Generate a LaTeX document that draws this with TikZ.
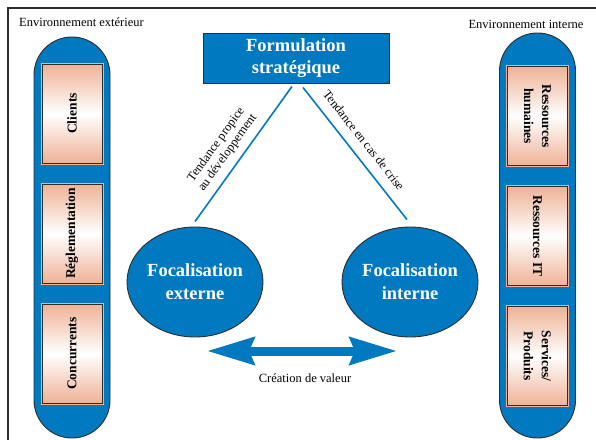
\documentclass[tikz,border=0pt]{standalone}
\usepackage{fontspec}
\setmainfont{Liberation Serif}
\usetikzlibrary{arrows.meta,shapes.geometric}
\definecolor{bleu}{RGB}{0,121,193}
\definecolor{peche}{RGB}{238,178,150}
\definecolor{cadre}{RGB}{45,45,45}

\begin{document}
\begin{tikzpicture}[x=1pt,y=-1pt]
	\tikzstyle{capsule}=[draw=cadre,fill=bleu,line width=0.9pt,rounded corners=37.9pt,minimum width=76pt]
	\tikzstyle{case}=[draw=cadre,line width=0.9pt,preaction={draw=peche,line width=3pt},top color=peche,bottom color=peche,middle color=white,minimum width=99pt,minimum height=60pt,inner sep=0pt,align=center,font=\bfseries\fontsize{13.5}{18}\selectfont]
	\tikzstyle{titre}=[draw=cadre,fill=bleu,line width=0.9pt,minimum width=186pt,minimum height=50pt,inner sep=0pt,text=white,align=center,font=\bfseries\fontsize{18.5}{22}\selectfont]
	\tikzstyle{ovale}=[ellipse,draw=cadre,fill=bleu,line width=0.9pt,minimum width=136pt,minimum height=110pt,inner sep=0pt,text=white,align=center,font=\bfseries\fontsize{18.5}{23}\selectfont]
	\tikzstyle{lien}=[draw=bleu,line width=1.6pt]
	\tikzstyle{etiquette}=[sloped,align=center,inner sep=0pt,font=\fontsize{12.5}{14}\selectfont]
	\tikzstyle{valeur}=[{Stealth[length=47pt,width=27pt,inset=5pt]}-{Stealth[length=47pt,width=27pt,inset=5pt]},draw=bleu,line width=9pt]
	\tikzstyle{texte}=[inner sep=0pt,font=\fontsize{12.5}{14}\selectfont]
	
	\def\ColonneG{72}
	\def\ColonneD{537.5}
	\def\PasCases{120}
	
	\useasboundingbox (0,0) rectangle (596,439);
	\draw[cadre,line width=1.2pt] (8,450) -- (8,8) -- (610,8);
	
	% environnement exterieur
	\node[texte,anchor=west] (envext) at (19,22) {Environnement extérieur};
	\node[capsule,minimum height=401pt] (ext) at (\ColonneG,237.5) {};
	\node[case,rotate=90] (clients) at (\ColonneG,113.5) {Clients};
	\node[case,rotate=90] (regl) at (\ColonneG,113.5+\PasCases) {Réglementation};
	\node[case,rotate=90] (conc) at (\ColonneG,113.5+2*\PasCases) {Concurrents};
	
	% environnement interne
	\node[texte] (envint) at (526,24) {Environnement interne};
	\node[capsule,minimum height=405pt] (int) at (\ColonneD,235.5) {};
	\node[case,rotate=-90] (rh) at (\ColonneD,116) {Ressources\\humaines};
	\node[case,rotate=-90] (rit) at (\ColonneD,116+\PasCases) {Ressources IT};
	\node[case,rotate=-90] (serv) at (\ColonneD,116+2*\PasCases) {Services/\\Produits};
	
	% centre
	\node[titre] (form) at (296,58) {Formulation\\stratégique};
	\node[ovale] (focext) at (195,282) {Focalisation\\externe};
	\node[ovale] (focint) at (410,282) {Focalisation\\interne};
	
	\draw[lien] ([xshift=-4pt,yshift=-3pt]form.south) -- ([yshift=5pt]focext.north)
		node[etiquette,pos=0.55,above=7pt] {Tendance propice\\au développement};
	\draw[lien] ([xshift=7pt,yshift=-4pt]form.south) -- ([xshift=-3pt,yshift=7pt]focint.north)
		node[etiquette,pos=0.47,above=10pt] {Tendance en cas de crise};
	
	\coordinate (valG) at (207,351);
	\coordinate (valD) at (397,351);
	\draw[valeur] (valG) -- (valD);
	\node[texte] (creation) at (305,378) {Création de valeur};
\end{tikzpicture}
\end{document}
